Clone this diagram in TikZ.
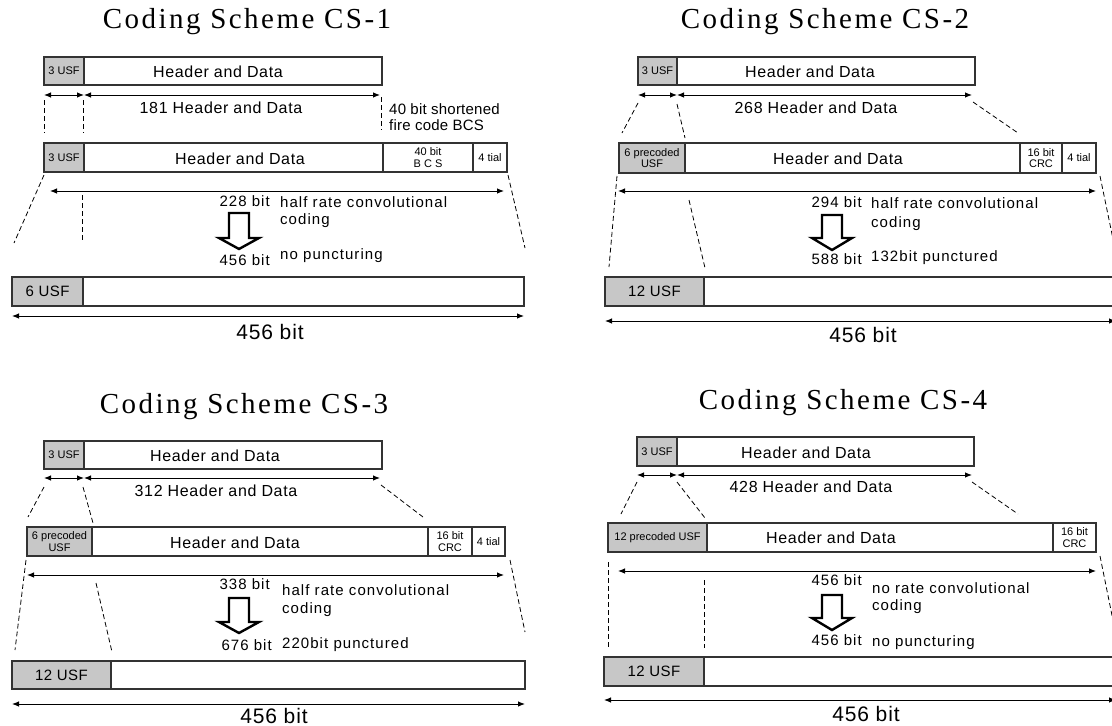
\documentclass[tikz,border=0pt]{standalone}
\usepackage{fontspec}
\setmainfont{Liberation Sans}
\newfontfamily\titlefont[LetterSpace=8.5]{Liberation Serif}
\newfontfamily\labelfont[LetterSpace=4]{Liberation Sans}
\newfontfamily\notefont[LetterSpace=7]{Liberation Sans}
\newfontfamily\remarkfont[LetterSpace=1.5]{Liberation Sans}
\newfontfamily\cellfont[LetterSpace=3]{Liberation Sans}
\usetikzlibrary{arrows.meta}

\tikzset{
  field/.style={draw=black!80, line width=1.3pt, inner sep=0pt, outer sep=0pt,
    anchor=north west, align=center, fill=white},
  usf/.style={field, fill=black!22},
  tiny/.style={font=\fontsize{11}{11.5}\selectfont},
  usflbl/.style={font=\cellfont\fontsize{15}{17}\selectfont},
  lbl/.style={font=\labelfont\fontsize{16}{18}\selectfont, inner sep=0pt},
  note/.style={font=\notefont\fontsize{15}{17}\selectfont, inner sep=0pt},
  remark/.style={font=\remarkfont\fontsize{15}{17}\selectfont, inner sep=0pt},
  heading/.style={font=\titlefont\fontsize{29}{32}\selectfont, inner sep=0pt},
  total/.style={font=\labelfont\fontsize{21}{24}\selectfont, inner sep=0pt},
  dim/.style={{Latex[length=7pt,width=5.5pt]}-{Latex[length=7pt,width=5.5pt]}, line width=0.9pt},
  guide/.style={dash pattern=on 5pt off 3pt, line width=0.8pt},
  coder/.style={draw, line width=2.4pt, fill=white, line join=miter},
}
% field cell given by its corners: [style]{x1}{y1}{x2}{y2}{name}{text}
\newcommand\fieldbox[7][field]{%
  \node[#1, minimum width={#4-#2}, minimum height={#5-#3}] (#6) at (#2,#3) {#7};}
% hollow coding arrow: {centre x}{shaft top}{head top}{tip}
\newcommand\coderarrow[4]{%
  \draw[coder] ({#1-10},#2) -- ({#1+10},#2) -- ({#1+10},#3) -- ({#1+20},#3)
    -- (#1,#4) -- ({#1-20},#3) -- ({#1-10},#3) -- cycle;}

\begin{document}
\begin{tikzpicture}[x=1pt,y=-1pt]
\useasboundingbox (0,0) rectangle (1112,726);
\fill[white] (0,0) rectangle (1112,726);
\clip (0,0) rectangle (1112,726);

% ================= CS-1 =================
\node[heading] (h1) at (247,22) {Coding Scheme CS-1};
\fieldbox[usf,tiny]{44}{57}{84}{85}{a-tu}{3 USF}
\fieldbox{84}{57}{382}{85}{a-th}{}
\node[lbl] (a-tht) at (218,72) {Header and Data};
\coordinate (a-d1) at (44,95); \coordinate (a-d2) at (84,95); \coordinate (a-d3) at (380,95);
\draw[dim] (a-d1) -- (a-d2);
\draw[dim] (a-d2) -- (a-d3);
\node[lbl] (a-len) at (221,108) {181 Header and Data};
\coordinate (a-g1a) at (44,100); \coordinate (a-g1b) at (44,133);
\coordinate (a-g2a) at (83,100); \coordinate (a-g2b) at (83,133);
\coordinate (a-g3a) at (381,97); \coordinate (a-g3b) at (381,130);
\draw[guide] (a-g1a) -- (a-g1b);
\draw[guide] (a-g2a) -- (a-g2b);
\draw[guide] (a-g3a) -- (a-g3b);
\node[remark, anchor=mid west] (a-n1) at (389,112) {40 bit shortened};
\node[remark, anchor=mid west] (a-n2) at (389,128) {fire code BCS};
\fieldbox[usf,tiny]{44}{143}{84}{172}{a-mu}{3 USF}
\fieldbox{84}{143}{383}{172}{a-mh}{}
\node[lbl] (a-mht) at (240,159) {Header and Data};
\fieldbox[field,tiny]{383}{143}{473}{172}{a-bcs}{40 bit\\B C S}
\fieldbox[field,tiny]{473}{143}{507}{172}{a-tail}{4 tial}
\coordinate (a-l1) at (50,191); \coordinate (a-l2) at (504,191);
\draw[dim] (a-l1) -- (a-l2);
\coordinate (a-g4a) at (44,175); \coordinate (a-g4b) at (14,243);
\coordinate (a-g5a) at (82,195); \coordinate (a-g5b) at (82,242);
\coordinate (a-g6a) at (508,175); \coordinate (a-g6b) at (525,248);
\draw[guide] (a-g4a) -- (a-g4b);
\draw[guide] (a-g5a) -- (a-g5b);
\draw[guide] (a-g6a) -- (a-g6b);
\node[note, anchor=mid east] (a-in) at (270,204) {228 bit};
\node[note, anchor=mid west] (a-c1) at (280,205) {half rate convolutional};
\node[note, anchor=mid west] (a-c2) at (280,222) {coding};
\coderarrow{239}{213}{238}{249}
\node[note, anchor=mid east] (a-out) at (270,263) {456 bit};
\node[note, anchor=mid west] (a-p) at (280,257) {no puncturing};
\fieldbox[usf,usflbl]{12}{277}{83}{306}{a-bu}{6 USF}
\fieldbox{83}{277}{524}{306}{a-bb}{}
\coordinate (a-t1) at (12,316); \coordinate (a-t2) at (524,316);
\draw[dim] (a-t1) -- (a-t2);
\node[total] (a-tot) at (270,332) {456 bit};

% ================= CS-2 =================
\node[heading] (h2) at (825,22) {Coding Scheme CS-2};
\fieldbox[usf,tiny]{638}{57}{677}{85}{b-tu}{3 USF}
\fieldbox{677}{57}{975}{85}{b-th}{}
\node[lbl] (b-tht) at (810,72) {Header and Data};
\coordinate (b-d1) at (638,95); \coordinate (b-d2) at (677,95); \coordinate (b-d3) at (972,95);
\draw[dim] (b-d1) -- (b-d2);
\draw[dim] (b-d2) -- (b-d3);
\node[lbl] (b-len) at (816,108) {268 Header and Data};
\coordinate (b-g1a) at (638,103); \coordinate (b-g1b) at (622,133);
\coordinate (b-g2a) at (677,104); \coordinate (b-g2b) at (685,138);
\coordinate (b-g3a) at (973,102); \coordinate (b-g3b) at (1018,133);
\draw[guide] (b-g1a) -- (b-g1b);
\draw[guide] (b-g2a) -- (b-g2b);
\draw[guide] (b-g3a) -- (b-g3b);
\fieldbox[usf,tiny]{619}{143}{685}{173}{b-mu}{6 precoded\\USF}
\fieldbox{685}{143}{1020}{173}{b-mh}{}
\node[lbl] (b-mht) at (838,159) {Header and Data};
\fieldbox[field,tiny]{1020}{143}{1062}{173}{b-crc}{16 bit\\CRC}
\fieldbox[field,tiny]{1062}{143}{1096}{173}{b-tail}{4 tial}
\coordinate (b-l1) at (618,191); \coordinate (b-l2) at (1096,191);
\draw[dim] (b-l1) -- (b-l2);
\coordinate (b-g4a) at (617,176); \coordinate (b-g4b) at (609,267);
\coordinate (b-g5a) at (689,200); \coordinate (b-g5b) at (705,268);
\coordinate (b-g6a) at (1100,176); \coordinate (b-g6b) at (1119,268);
\draw[guide] (b-g4a) -- (b-g4b);
\draw[guide] (b-g5a) -- (b-g5b);
\draw[guide] (b-g6a) -- (b-g6b);
\node[note, anchor=mid east] (b-in) at (862,205) {294 bit};
\node[note, anchor=mid west] (b-c1) at (871,206) {half rate convolutional};
\node[note, anchor=mid west] (b-c2) at (871,225) {coding};
\coderarrow{832}{215}{238}{250}
\node[note, anchor=mid east] (b-out) at (862,262) {588 bit};
\node[note, anchor=mid west] (b-p) at (871,259) {132bit punctured};
\fieldbox[usf,usflbl]{605}{277}{704}{306}{b-bu}{12 USF}
\fieldbox{704}{277}{1130}{306}{b-bb}{}
\coordinate (b-t1) at (605,321); \coordinate (b-t2) at (1116,321);
\draw[dim] (b-t1) -- (b-t2);
\node[total] (b-tot) at (863,335) {456 bit};

% ================= CS-3 =================
\node[heading] (h3) at (244,407) {Coding Scheme CS-3};
\fieldbox[usf,tiny]{44}{441}{84}{469}{c-tu}{3 USF}
\fieldbox{84}{441}{382}{469}{c-th}{}
\node[lbl] (c-tht) at (215,456) {Header and Data};
\coordinate (c-d1) at (44,478); \coordinate (c-d2) at (84,478); \coordinate (c-d3) at (380,478);
\draw[dim] (c-d1) -- (c-d2);
\draw[dim] (c-d2) -- (c-d3);
\node[lbl] (c-len) at (216,491) {312 Header and Data};
\coordinate (c-g1a) at (44,487); \coordinate (c-g1b) at (28,517);
\coordinate (c-g2a) at (83,487); \coordinate (c-g2b) at (93,523);
\coordinate (c-g3a) at (381,485); \coordinate (c-g3b) at (423,517);
\draw[guide] (c-g1a) -- (c-g1b);
\draw[guide] (c-g2a) -- (c-g2b);
\draw[guide] (c-g3a) -- (c-g3b);
\fieldbox[usf,tiny]{27}{527}{92}{556}{c-mu}{6 precoded\\USF}
\fieldbox{92}{527}{428}{556}{c-mh}{}
\node[lbl] (c-mht) at (235,543) {Header and Data};
\fieldbox[field,tiny]{428}{527}{472}{556}{c-crc}{16 bit\\CRC}
\fieldbox[field,tiny]{472}{527}{505}{556}{c-tail}{4 tial}
\coordinate (c-l1) at (27,575); \coordinate (c-l2) at (504,575);
\draw[dim] (c-l1) -- (c-l2);
\coordinate (c-g4a) at (26,560); \coordinate (c-g4b) at (15,650);
\coordinate (c-g5a) at (96,583); \coordinate (c-g5b) at (112,652);
\coordinate (c-g6a) at (510,560); \coordinate (c-g6b) at (525,632);
\draw[guide] (c-g4a) -- (c-g4b);
\draw[guide] (c-g5a) -- (c-g5b);
\draw[guide] (c-g6a) -- (c-g6b);
\node[note, anchor=mid east] (c-in) at (270,587) {338 bit};
\node[note, anchor=mid west] (c-c1) at (282,593) {half rate convolutional};
\node[note, anchor=mid west] (c-c2) at (282,611) {coding};
\coderarrow{239}{598}{622}{633}
\node[note, anchor=mid east] (c-out) at (272,648) {676 bit};
\node[note, anchor=mid west] (c-p) at (282,646) {220bit punctured};
\fieldbox[usf,usflbl]{12}{661}{111}{689}{c-bu}{12 USF}
\fieldbox{111}{661}{525}{689}{c-bb}{}
\coordinate (c-t1) at (12,704); \coordinate (c-t2) at (525,704);
\draw[dim] (c-t1) -- (c-t2);
\node[total] (c-tot) at (274,716) {456 bit};

% ================= CS-4 =================
\node[heading] (h4) at (843,403) {Coding Scheme CS-4};
\fieldbox[usf,tiny]{637}{437}{677}{466}{d-tu}{3 USF}
\fieldbox{677}{437}{974}{466}{d-th}{}
\node[lbl] (d-tht) at (806,453) {Header and Data};
\coordinate (d-d1) at (637,475); \coordinate (d-d2) at (677,475); \coordinate (d-d3) at (972,475);
\draw[dim] (d-d1) -- (d-d2);
\draw[dim] (d-d2) -- (d-d3);
\node[lbl] (d-len) at (811,487) {428 Header and Data};
\coordinate (d-g1a) at (637,482); \coordinate (d-g1b) at (621,514);
\coordinate (d-g2a) at (677,482); \coordinate (d-g2b) at (705,518);
\coordinate (d-g3a) at (972,482); \coordinate (d-g3b) at (1018,514);
\draw[guide] (d-g1a) -- (d-g1b);
\draw[guide] (d-g2a) -- (d-g2b);
\draw[guide] (d-g3a) -- (d-g3b);
\fieldbox[usf,tiny]{608}{523}{707}{552}{d-mu}{12 precoded USF}
\fieldbox{707}{523}{1053}{552}{d-mh}{}
\node[lbl] (d-mht) at (831,538) {Header and Data};
\fieldbox[field,tiny]{1053}{523}{1096}{552}{d-crc}{16 bit\\CRC}
\coordinate (d-l1) at (618,571); \coordinate (d-l2) at (1096,571);
\draw[dim] (d-l1) -- (d-l2);
\coordinate (d-g4a) at (608,562); \coordinate (d-g4b) at (608,647);
\coordinate (d-g5a) at (704,580); \coordinate (d-g5b) at (704,648);
\coordinate (d-g6a) at (1100,556); \coordinate (d-g6b) at (1119,650);
\draw[guide] (d-g4a) -- (d-g4b);
\draw[guide] (d-g5a) -- (d-g5b);
\draw[guide] (d-g6a) -- (d-g6b);
\node[note, anchor=mid east] (d-in) at (862,583) {456 bit};
\node[note, anchor=mid west] (d-c1) at (872,591) {no rate convolutional};
\node[note, anchor=mid west] (d-c2) at (872,608) {coding};
\coderarrow{832}{595}{618}{630}
\node[note, anchor=mid east] (d-out) at (862,643) {456 bit};
\node[note, anchor=mid west] (d-p) at (872,644) {no puncturing};
\fieldbox[usf,usflbl]{604}{657}{704}{686}{d-bu}{12 USF}
\fieldbox{704}{657}{1130}{686}{d-bb}{}
\coordinate (d-t1) at (604,700); \coordinate (d-t2) at (1116,700);
\draw[dim] (d-t1) -- (d-t2);
\node[total] (d-tot) at (866,714) {456 bit};
\end{tikzpicture}
\end{document}
